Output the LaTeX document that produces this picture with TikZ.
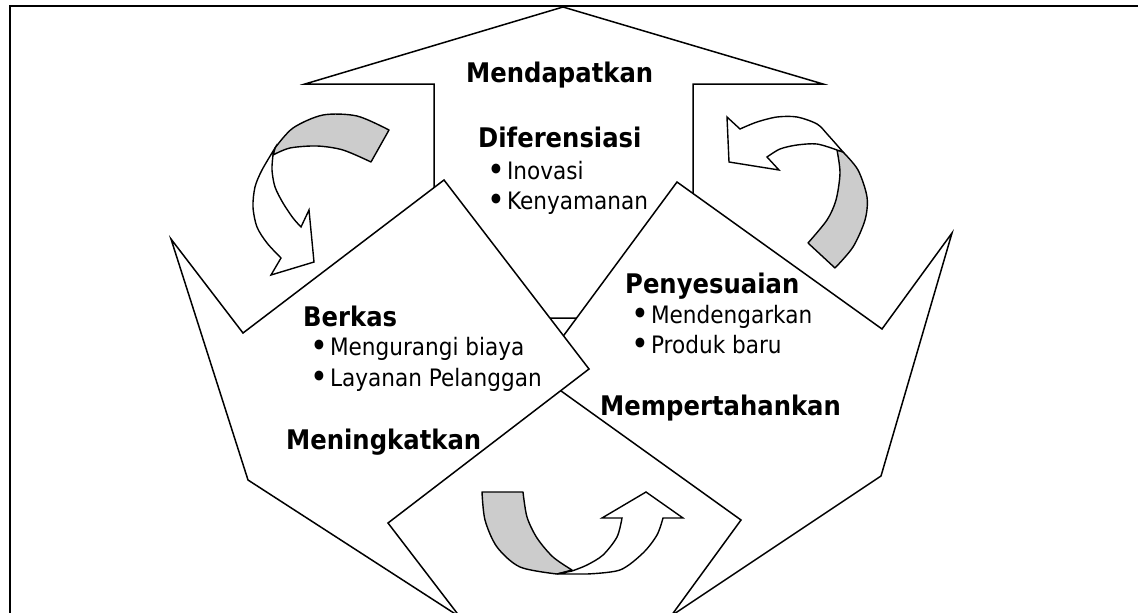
\documentclass[tikz,border=0pt]{standalone}
\usepackage{fontspec}
\setmainfont{DejaVu Sans}[FakeStretch=0.9]
\usepackage{xcolor}
\usepackage{graphicx}
\definecolor{backgray}{HTML}{CCCCCC}
\newcommand{\bul}{\makebox[13pt][l]{\raisebox{-2pt}[0pt][0pt]{\scalebox{1.4}{•}}}}
\tikzset{
    bigarrow/.style={draw=black, fill=white, line width=1.5pt, line join=miter},
    backside/.style={draw=black, fill=backgray, line width=1.4pt, line join=round},
    frontside/.style={draw=black, fill=white, line width=1.4pt, line join=miter},
    headtxt/.style={anchor=base west, inner sep=0pt, font=\bfseries\fontsize{27}{30}\selectfont},
    itemtxt/.style={anchor=base west, inner sep=0pt, font=\fontsize{24}{28}\selectfont}
}

\begin{document}
\begin{tikzpicture}[x=1pt, y=-1pt]
    \useasboundingbox (0,0) rectangle (1138,613);
    \clip (0,0) rectangle (1138,613);
    \fill[white] (0,0) rectangle (1138,613);
    %%Bingkai
    \draw[line width=2pt] (9.5,640) -- (9.5,6) -- (1160,6);
    %%Panah besar
    \draw[bigarrow] (434,318) -- (434,84) -- (305,84) -- (563,7) -- (823,84) -- (693,84) -- (693,318) -- cycle;
    \draw[bigarrow] (536,373) -- (677,182) -- (882,329) -- (952,233) -- (881,476) -- (671,616) -- (741,520) -- cycle;
    \draw[bigarrow] (589,369) -- (444,180) -- (243,333) -- (171,239) -- (248,480) -- (460,617) -- (388,523) -- cycle;
    %%Panah lengkung kiri atas
    \draw[backside] (275,148) -- plot[smooth] coordinates {(275,148) (293,128) (323,115) (357,116) (389,130)}
        -- (371,162) -- plot[smooth] coordinates {(371,162) (343,150) (317,146) (290,148) (273,155)} -- cycle;
    \draw[frontside] (275,148) -- plot[smooth] coordinates {(275,148) (262,170) (255,187) (253,207) (257,227) (267,243) (281,258)}
        -- (271,275) -- (314,262) -- (309,210) -- (301,227)
        -- plot[smooth] coordinates {(301,227) (293,218) (283,203) (275,187) (272,170) (273,155)} -- cycle;
    %%Panah lengkung kanan atas
    \draw[backside] (843,152) -- plot[smooth] coordinates {(843,152) (858,170) (867,197) (865,220) (853,247) (835,268)}
        -- (808,243) -- plot[smooth] coordinates {(808,243) (827,220) (836,200) (840,173) (837,150)} -- cycle;
    \draw[frontside] (843,152) -- plot[smooth] coordinates {(843,152) (828,135) (817,124) (797,117) (777,117) (757,122) (740,129)}
        -- (727,117) -- (729,162) -- (779,170) -- (767,157)
        -- plot[smooth] coordinates {(767,157) (780,149) (797,145) (817,144) (837,150)} -- cycle;
    %%Panah lengkung bawah
    \draw[backside] (482,492) -- (523,492) -- plot[smooth] coordinates {(523,492) (527,517) (537,538) (553,557) (572,570)}
        -- (557,574) -- plot[smooth] coordinates {(557,574) (520,567) (497,547) (485,520) (482,492)} -- cycle;
    \draw[frontside] (557,574) -- (587,574) -- plot[smooth] coordinates {(587,574) (620,570) (643,553) (657,535) (663,518)}
        -- (683,518) -- (646,492) -- (602,518) -- (622,518)
        -- plot[smooth] coordinates {(622,518) (617,537) (603,555) (587,565) (572,571)} -- cycle;
    %%Teks
    \node[headtxt] (mendapatkan) at (466,82) {Mendapatkan};
    \node[headtxt] (diferensiasi) at (478,147) {Diferensiasi};
    \node[itemtxt] (inovasi) at (487,179) {\bul{} Inovasi};
    \node[itemtxt] (kenyamanan) at (487,209) {\bul{} Kenyamanan};
    \node[headtxt] (berkas) at (303,326) {Berkas};
    \node[itemtxt] (biaya) at (310,355) {\bul{} Mengurangi biaya};
    \node[itemtxt] (layanan) at (310,386) {\bul{} Layanan Pelanggan};
    \node[headtxt] (meningkatkan) at (286,449) {Meningkatkan};
    \node[headtxt] (penyesuaian) at (625,293) {Penyesuaian};
    \node[itemtxt] (mendengarkan) at (631,323) {\bul{} Mendengarkan};
    \node[itemtxt] (produk) at (631,353) {\bul{} Produk baru};
    \node[headtxt] (mempertahankan) at (600,415) {Mempertahankan};
\end{tikzpicture}
\end{document}
